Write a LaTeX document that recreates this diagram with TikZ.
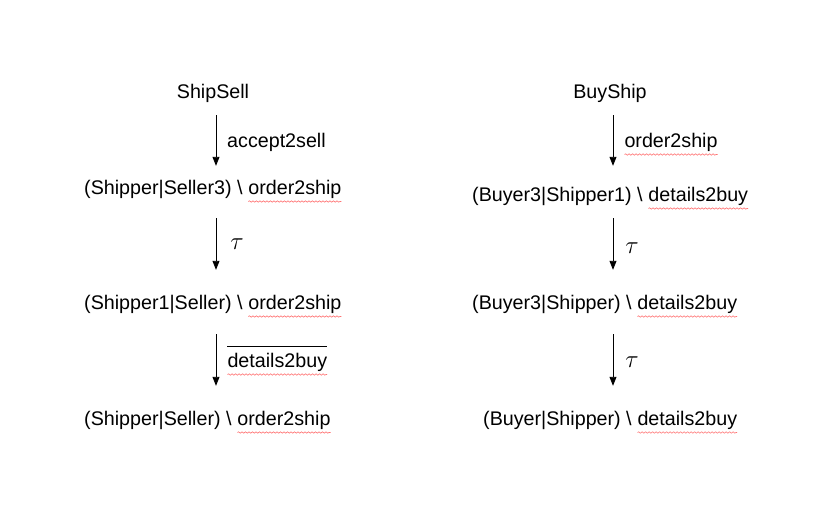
\documentclass[tikz,border=0pt]{standalone}
\usepackage{fontspec}
\setmainfont{Liberation Sans}
\usetikzlibrary{arrows.meta,decorations.pathmorphing}

% spell-check wave under a word
\newcommand\spell[1]{\tikz[baseline=(w.base)]{\node[inner sep=0pt,outer sep=0pt,anchor=base,text height=,text depth=] (w) {#1};
  \draw[red!55,line width=0.6pt,decorate,decoration={snake,amplitude=0.7pt,segment length=3.5pt}] ([yshift=-7.5pt]w.base west) -- ([yshift=-7.5pt]w.base east);}}
% co-name bar
\newcommand\coname[1]{\vbox{\hrule height 0.9pt\kern 6pt\hbox{#1}}}

\begin{document}
\begin{tikzpicture}[x=1pt,y=-1pt]
\tikzset{proc/.style={inner sep=0pt,text height=14.5pt,text depth=4.5pt}}
\tikzset{act/.style={inner sep=0pt,anchor=base west}}
\tikzset{silent/.style={inner sep=0pt,font=\fontsize{25}{28}\selectfont}}
\tikzset{trans/.style={-{Triangle[length=9pt,width=7pt]},line width=0.9pt}}

\fontsize{19.7}{24}\selectfont

\path[fill=white] (0,0) rectangle (825,527);

% ShipSell
\node[proc,anchor=base] (ss) at (213,99) {ShipSell};
\node[proc,anchor=base west] (ss1) at (84,194) {(Shipper|Seller3) \textbackslash{} \spell{order2ship}};
\node[proc,anchor=base west] (ss2) at (84,309) {(Shipper1|Seller) \textbackslash{} \spell{order2ship}};
\node[proc,anchor=base west] (ss3) at (84,425) {(Shipper|Seller) \textbackslash{} \spell{order2ship}};

\node[act] (la1) at (227,147) {accept2sell};
\node[silent] (la2) at (237,244) {$\tau$};
\node[act] (la3) at (227,367) {\coname{\spell{details2buy}}};

\coordinate (lx) at (216,0);
\draw[trans,shorten <=11.5pt,shorten >=13.5pt] (lx |- ss.south) -- (lx |- ss1.north);
\draw[trans,shorten <=19.5pt,shorten >=24.5pt] (lx |- ss1.south) -- (lx |- ss2.north);
\draw[trans,shorten <=20.5pt,shorten >=24.5pt] (lx |- ss2.south) -- (lx |- ss3.north);

% BuyShip
\node[proc,anchor=base] (bs) at (610,99) {BuyShip};
\node[proc,anchor=base west] (bs1) at (472,201) {(Buyer3|Shipper1) \textbackslash{} \spell{details2buy}};
\node[proc,anchor=base west] (bs2) at (472,309) {(Buyer3|Shipper) \textbackslash{} \spell{details2buy}};
\node[proc,anchor=base west] (bs3) at (483,425) {(Buyer|Shipper) \textbackslash{} \spell{details2buy}};

\node[act] (lb1) at (624,147) {\spell{order2ship}};
\node[silent] (lb2) at (632,248) {$\tau$};
\node[silent] (lb3) at (632,362) {$\tau$};

\coordinate (rx) at (613,0);
\draw[trans,shorten <=11.5pt,shorten >=20.5pt] (rx |- bs.south) -- (rx |- bs1.north);
\draw[trans,shorten <=12.5pt,shorten >=24.5pt] (rx |- bs1.south) -- (rx |- bs2.north);
\draw[trans,shorten <=20.5pt,shorten >=24.5pt] (rx |- bs2.south) -- (rx |- bs3.north);

\end{tikzpicture}
\end{document}
